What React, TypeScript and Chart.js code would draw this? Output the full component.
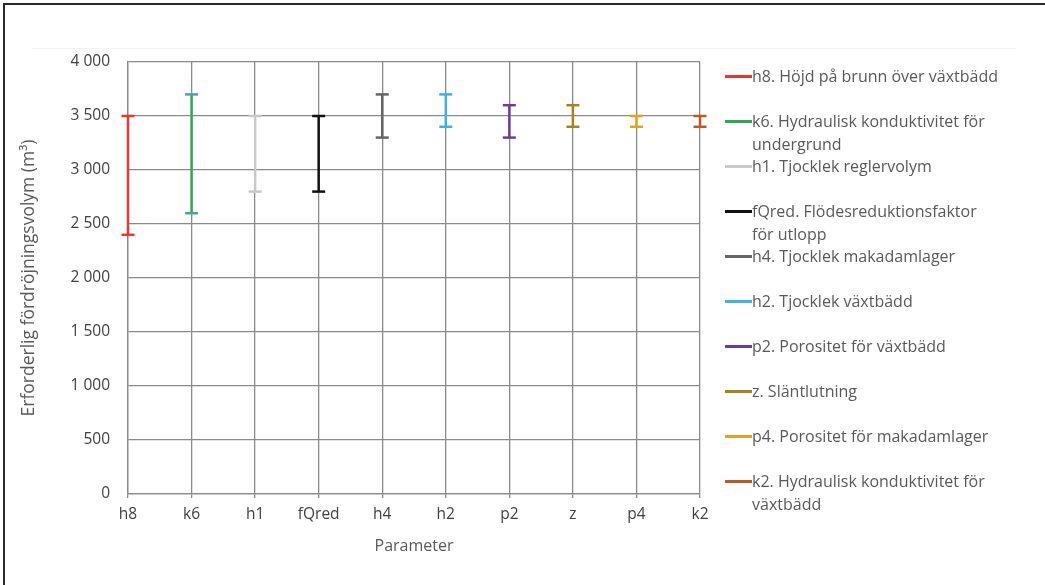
import React, { useEffect, useRef } from 'react';
import { Chart, registerables } from 'chart.js';

Chart.register(...registerables);

const categories = ['h8', 'k6', 'h1', 'fQred', 'h4', 'h2', 'p2', 'z', 'p4', 'k2'];
const lowValues = [2400, 2600, 2800, 2800, 3300, 3400, 3300, 3400, 3400, 3400];
const highValues = [3500, 3700, 3500, 3500, 3700, 3700, 3600, 3600, 3500, 3500];
const legendLabels = [
  'h8. Höjd på brunn över växtbädd',
  'k6. Hydraulisk konduktivitet för\nundergrund',
  'h1. Tjocklek reglervolym',
  'fQred. Flödesreduktionsfaktor\nför utlopp',
  'h4. Tjocklek makadamlager',
  'h2. Tjocklek växtbädd',
  'p2. Porositet för växtbädd',
  'z. Släntlutning',
  'p4. Porositet för makadamlager',
  'k2. Hydraulisk konduktivitet för\nväxtbädd',
];
const lineColors = ['#e8372c', '#2fa84f', '#c9c9c9', '#111111', '#666666', '#3cb3e6', '#6b3d99', '#a9821c', '#e0a31e', '#be5a20'];
const capColors = ['#e8372c', '#45a79c', '#c9c9c9', '#111111', '#666666', '#3cb3e6', '#6b3d99', '#a9821c', '#e0a31e', '#be5a20'];
const yMin = 0;
const yMax = 4000;
const yStep = 500;
const xTitle = 'Parameter';
const yTitle = 'Erforderlig fördröjningsvolym (m³)';

const FONT = '"Open Sans", Lato, sans-serif';
const TEXT = '#595959';
const GRID = '#8a8a8a';

function fmt(v: number) {
  return String(v).replace(/\B(?=(\d{3})+(?!\d))/g, ' ');
}

export default function App() {
  const ref = useRef<HTMLCanvasElement | null>(null);

  useEffect(() => {
    if (!ref.current) return;
    const datasets = categories.map((c, i) => ({
      label: legendLabels[i],
      data: [
        { x: c, y: lowValues[i] },
        { x: c, y: highValues[i] },
      ],
      borderColor: lineColors[i],
      backgroundColor: lineColors[i],
      borderWidth: 2.5,
      pointStyle: 'line' as const,
      pointRadius: 6.5,
      pointHoverRadius: 6.5,
      pointBorderWidth: 2.5,
      pointBorderColor: capColors[i],
      clip: 12,
    }));
    const chart = new Chart(ref.current, {
      type: 'line',
      data: { labels: categories, datasets },
      options: {
        responsive: false,
        animation: false,
        layout: { padding: { left: 0, right: 345, top: 62, bottom: 21 } },
        plugins: { legend: { display: false }, tooltip: { enabled: false } },
        scales: {
          x: {
            type: 'category',
            offset: false,
            grid: { color: GRID, lineWidth: 1.3, tickLength: 4 },
            border: { color: GRID, width: 1.3 },
            ticks: { color: '#404040', font: { family: FONT, size: 15.5 }, padding: 7, maxRotation: 0, autoSkip: false },
            title: { display: true, text: xTitle, color: TEXT, font: { family: FONT, size: 16 }, padding: { bottom: 8 } },
            afterFit: (s: any) => {
              s.height = 70;
            },
          },
          y: {
            min: yMin,
            max: yMax,
            ticks: { stepSize: yStep, color: '#404040', font: { family: FONT, size: 15.5 }, padding: 18, callback: (v: any) => fmt(Number(v)) },
            grid: { color: GRID, lineWidth: 1.3, drawTicks: false },
            border: { color: GRID, width: 1.3 },
            title: { display: true, text: yTitle, color: TEXT, font: { family: FONT, size: 17.5 }, padding: { top: 19 } },
            afterFit: (s: any) => {
              s.width = 128;
            },
          },
        },
      },
    });
    return () => chart.destroy();
  }, []);

  return (
    <div style={{ position: 'absolute', left: 0, top: 0, width: 1045, height: 585, background: '#fff', overflow: 'hidden' }}>
      <canvas ref={ref} width={1045} height={585} style={{ display: 'block', position: 'absolute', left: 0, top: 0 }} />
      <div style={{ position: 'absolute', left: 3, top: 3, width: 1042, height: 2, background: '#2a2a2a' }} />
      <div style={{ position: 'absolute', left: 3, top: 3, width: 2, height: 582, background: '#2a2a2a' }} />
      <div style={{ position: 'absolute', left: 32, top: 48, width: 984, height: 1, background: '#f3f3f3' }} />
      {legendLabels.map((lab, i) => {
        const cy = 76 + i * 45;
        return (
          <div key={i} style={{ position: 'absolute', left: 725, top: cy - 11.5, width: 315 }}>
            <div style={{ position: 'absolute', left: 0, top: 10, width: 27, height: 3, background: lineColors[i] }} />
            <div style={{ position: 'absolute', left: 27, top: 0, whiteSpace: 'pre', font: `16px ${FONT}`, lineHeight: '23px', color: TEXT }}>{lab}</div>
          </div>
        );
      })}
    </div>
  );
}
